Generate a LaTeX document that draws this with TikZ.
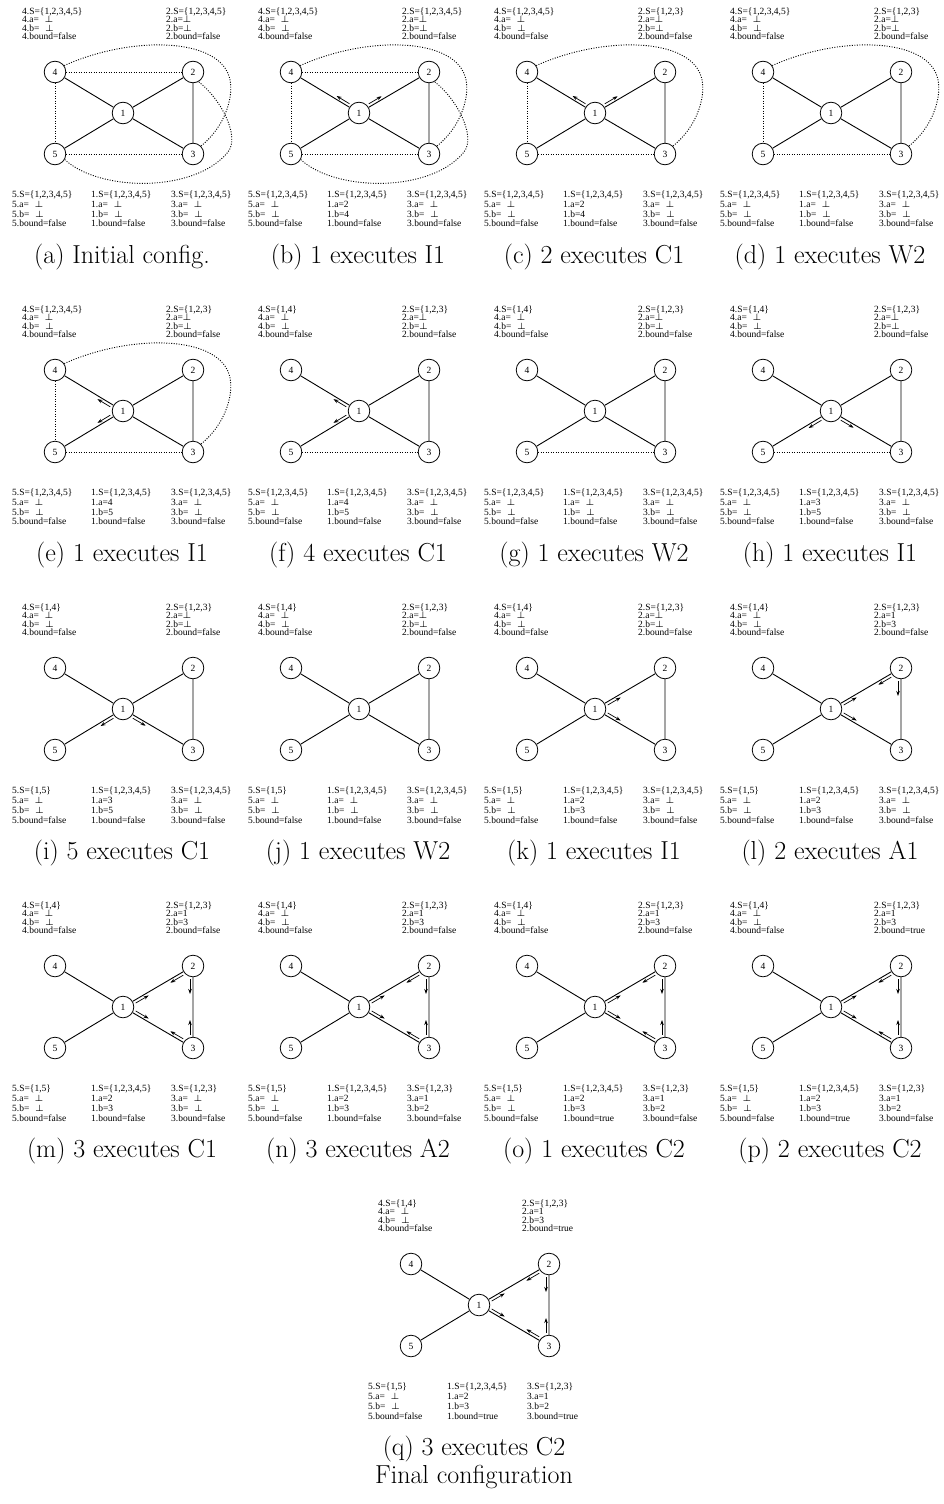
\documentclass[tikz,border=0pt]{standalone}
\usepackage{fontspec}
\newfontfamily\tim{Liberation Serif}
\usetikzlibrary{calc,arrows.meta}
\tikzset{
 vtx/.style={circle,draw,line width=0.8pt,minimum size=21.6pt,inner sep=0pt,font=\tim\fontsize{9.5}{9.5}\selectfont},
 edge/.style={line width=0.9pt},
 dotedge/.style={line width=0.9pt,dash pattern=on 1pt off 1.5pt},
 msg/.style={line width=0.7pt,-{Stealth[length=5pt,width=3.5pt]}},
 toptxt/.style={anchor=north west,inner sep=0pt,align=left,font=\tim\fontsize{9.5}{8.4}\selectfont},
 bottxt/.style={anchor=north west,inner sep=0pt,align=left,font=\tim\fontsize{9.5}{9.9}\selectfont},
 captxt/.style={inner sep=0pt,font=\fontsize{26}{28}\selectfont,align=center},
}
\newcommand\bt{\hspace{6pt}{\boldmath$\perp$}}
\newcommand\btn{{\boldmath$\perp$}}
\newcommand\sv[5]{#1.S=\{#2\}\\#1.a=#3\\#1.b=#4\\#1.bound=#5}
\newcommand\base[1]{%
  \node[vtx] (#1-4) at (55,72) {4};
  \node[vtx] (#1-2) at (193,72) {2};
  \node[vtx] (#1-1) at (123,113) {1};
  \node[vtx] (#1-5) at (55,154) {5};
  \node[vtx] (#1-3) at (193,154) {3};
  \draw[edge] (#1-4) -- (#1-1) (#1-2) -- (#1-1) (#1-5) -- (#1-1) (#1-3) -- (#1-1) (#1-2) -- (#1-3);}
\newcommand\dotFT[1]{\draw[dotedge] (#1-5) -- (#1-3);}
\newcommand\dotFF[1]{\draw[dotedge] (#1-4) -- (#1-5);}
\newcommand\dotFTw[1]{\draw[dotedge] (#1-4) -- (#1-2);}
\newcommand\curveA[1]{\draw[dotedge] (#1-4.35) .. controls (130,36) and (216,37) .. (229,76) .. controls (235,94) and (226,126) .. (#1-3.45);}
\newcommand\curveB[1]{\draw[dotedge] (#1-5.-30) .. controls (100,192) and (195,193) .. (228,152) .. controls (240,137) and (222,100) .. (#1-2.-60);}
\newcommand\msgarrow[3]{\draw[msg] ($(#1)!13pt!(#2)!3pt!#3:(#2)$) -- ($(#1)!28pt!(#2)!3pt!#3:(#2)$);}
\newcommand\tx[6]{%
  \node[toptxt] (#1-t4) at (22,7.5) {#2};
  \node[toptxt] (#1-t2) at (166,7.5) {#3};
  \node[bottxt] (#1-t5) at (12,190.5) {#4};
  \node[bottxt] (#1-t1) at (91,190.5) {#5};
  \node[bottxt] (#1-t3) at (171,190.5) {#6};}
\newcommand\pcap[2]{\node[captxt] (#1-cap) at (122,257) {#2};}
\newcommand\sixarrows[1]{\msgarrow{#1-1}{#1-2}{-90}\msgarrow{#1-1}{#1-3}{90}\msgarrow{#1-2}{#1-1}{90}\msgarrow{#1-2}{#1-3}{-90}\msgarrow{#1-3}{#1-1}{-90}\msgarrow{#1-3}{#1-2}{90}}
\begin{document}
\begin{tikzpicture}[x=1pt,y=-1pt]
\useasboundingbox (0,0) rectangle (944,1504);
% (a)
\begin{scope}[shift={(0,0)}]
\base{a}\dotFT{a}\dotFF{a}\dotFTw{a}\curveA{a}\curveB{a}
\tx{a}{\sv{4}{1,2,3,4,5}{\bt}{\bt}{false}}{\sv{2}{1,2,3,4,5}{\btn}{\btn}{false}}{\sv{5}{1,2,3,4,5}{\bt}{\bt}{false}}{\sv{1}{1,2,3,4,5}{\bt}{\bt}{false}}{\sv{3}{1,2,3,4,5}{\bt}{\bt}{false}}
\pcap{a}{(a) Initial config.}
\end{scope}
% (b)
\begin{scope}[shift={(236,0)}]
\base{b}\dotFT{b}\dotFF{b}\dotFTw{b}\curveA{b}\curveB{b}
\msgarrow{b-1}{b-4}{-90}\msgarrow{b-1}{b-2}{90}
\tx{b}{\sv{4}{1,2,3,4,5}{\bt}{\bt}{false}}{\sv{2}{1,2,3,4,5}{\btn}{\btn}{false}}{\sv{5}{1,2,3,4,5}{\bt}{\bt}{false}}{\sv{1}{1,2,3,4,5}{2}{4}{false}}{\sv{3}{1,2,3,4,5}{\bt}{\bt}{false}}
\pcap{b}{(b) 1 executes I1}
\end{scope}
% (c)
\begin{scope}[shift={(472,0)}]
\base{c}\dotFT{c}\dotFF{c}\curveA{c}
\msgarrow{c-1}{c-4}{-90}\msgarrow{c-1}{c-2}{90}
\tx{c}{\sv{4}{1,2,3,4,5}{\bt}{\bt}{false}}{\sv{2}{1,2,3}{\btn}{\btn}{false}}{\sv{5}{1,2,3,4,5}{\bt}{\bt}{false}}{\sv{1}{1,2,3,4,5}{2}{4}{false}}{\sv{3}{1,2,3,4,5}{\bt}{\bt}{false}}
\pcap{c}{(c) 2 executes C1}
\end{scope}
% (d)
\begin{scope}[shift={(708,0)}]
\base{d}\dotFT{d}\dotFF{d}\curveA{d}
\tx{d}{\sv{4}{1,2,3,4,5}{\bt}{\bt}{false}}{\sv{2}{1,2,3}{\btn}{\btn}{false}}{\sv{5}{1,2,3,4,5}{\bt}{\bt}{false}}{\sv{1}{1,2,3,4,5}{\bt}{\bt}{false}}{\sv{3}{1,2,3,4,5}{\bt}{\bt}{false}}
\pcap{d}{(d) 1 executes W2}
\end{scope}
% (e)
\begin{scope}[shift={(0,298)}]
\base{e}\dotFT{e}\dotFF{e}\curveA{e}
\msgarrow{e-1}{e-4}{90}\msgarrow{e-1}{e-5}{-90}
\tx{e}{\sv{4}{1,2,3,4,5}{\bt}{\bt}{false}}{\sv{2}{1,2,3}{\btn}{\btn}{false}}{\sv{5}{1,2,3,4,5}{\bt}{\bt}{false}}{\sv{1}{1,2,3,4,5}{4}{5}{false}}{\sv{3}{1,2,3,4,5}{\bt}{\bt}{false}}
\pcap{e}{(e) 1 executes I1}
\end{scope}
% (f)
\begin{scope}[shift={(236,298)}]
\base{f}\dotFT{f}
\msgarrow{f-1}{f-4}{90}\msgarrow{f-1}{f-5}{-90}
\tx{f}{\sv{4}{1,4}{\bt}{\bt}{false}}{\sv{2}{1,2,3}{\btn}{\btn}{false}}{\sv{5}{1,2,3,4,5}{\bt}{\bt}{false}}{\sv{1}{1,2,3,4,5}{4}{5}{false}}{\sv{3}{1,2,3,4,5}{\bt}{\bt}{false}}
\pcap{f}{(f) 4 executes C1}
\end{scope}
% (g)
\begin{scope}[shift={(472,298)}]
\base{g}\dotFT{g}
\tx{g}{\sv{4}{1,4}{\bt}{\bt}{false}}{\sv{2}{1,2,3}{\btn}{\btn}{false}}{\sv{5}{1,2,3,4,5}{\bt}{\bt}{false}}{\sv{1}{1,2,3,4,5}{\bt}{\bt}{false}}{\sv{3}{1,2,3,4,5}{\bt}{\bt}{false}}
\pcap{g}{(g) 1 executes W2}
\end{scope}
% (h)
\begin{scope}[shift={(708,298)}]
\base{h}\dotFT{h}
\msgarrow{h-1}{h-5}{90}\msgarrow{h-1}{h-3}{-90}
\tx{h}{\sv{4}{1,4}{\bt}{\bt}{false}}{\sv{2}{1,2,3}{\btn}{\btn}{false}}{\sv{5}{1,2,3,4,5}{\bt}{\bt}{false}}{\sv{1}{1,2,3,4,5}{3}{5}{false}}{\sv{3}{1,2,3,4,5}{\bt}{\bt}{false}}
\pcap{h}{(h) 1 executes I1}
\end{scope}
% (i)
\begin{scope}[shift={(0,596)}]
\base{i}
\msgarrow{i-1}{i-5}{90}\msgarrow{i-1}{i-3}{-90}
\tx{i}{\sv{4}{1,4}{\bt}{\bt}{false}}{\sv{2}{1,2,3}{\btn}{\btn}{false}}{\sv{5}{1,5}{\bt}{\bt}{false}}{\sv{1}{1,2,3,4,5}{3}{5}{false}}{\sv{3}{1,2,3,4,5}{\bt}{\bt}{false}}
\pcap{i}{(i) 5 executes C1}
\end{scope}
% (j)
\begin{scope}[shift={(236,596)}]
\base{j}
\tx{j}{\sv{4}{1,4}{\bt}{\bt}{false}}{\sv{2}{1,2,3}{\btn}{\btn}{false}}{\sv{5}{1,5}{\bt}{\bt}{false}}{\sv{1}{1,2,3,4,5}{\bt}{\bt}{false}}{\sv{3}{1,2,3,4,5}{\bt}{\bt}{false}}
\pcap{j}{(j) 1 executes W2}
\end{scope}
% (k)
\begin{scope}[shift={(472,596)}]
\base{k}
\msgarrow{k-1}{k-2}{-90}\msgarrow{k-1}{k-3}{90}
\tx{k}{\sv{4}{1,4}{\bt}{\bt}{false}}{\sv{2}{1,2,3}{\btn}{\btn}{false}}{\sv{5}{1,5}{\bt}{\bt}{false}}{\sv{1}{1,2,3,4,5}{2}{3}{false}}{\sv{3}{1,2,3,4,5}{\bt}{\bt}{false}}
\pcap{k}{(k) 1 executes I1}
\end{scope}
% (l)
\begin{scope}[shift={(708,596)}]
\base{l}
\msgarrow{l-1}{l-2}{-90}\msgarrow{l-1}{l-3}{90}\msgarrow{l-2}{l-1}{90}\msgarrow{l-2}{l-3}{-90}
\tx{l}{\sv{4}{1,4}{\bt}{\bt}{false}}{\sv{2}{1,2,3}{1}{3}{false}}{\sv{5}{1,5}{\bt}{\bt}{false}}{\sv{1}{1,2,3,4,5}{2}{3}{false}}{\sv{3}{1,2,3,4,5}{\bt}{\bt}{false}}
\pcap{l}{(l) 2 executes A1}
\end{scope}
% (m)
\begin{scope}[shift={(0,894)}]
\base{m}\sixarrows{m}
\tx{m}{\sv{4}{1,4}{\bt}{\bt}{false}}{\sv{2}{1,2,3}{1}{3}{false}}{\sv{5}{1,5}{\bt}{\bt}{false}}{\sv{1}{1,2,3,4,5}{2}{3}{false}}{\sv{3}{1,2,3}{\bt}{\bt}{false}}
\pcap{m}{(m) 3 executes C1}
\end{scope}
% (n)
\begin{scope}[shift={(236,894)}]
\base{n}\sixarrows{n}
\tx{n}{\sv{4}{1,4}{\bt}{\bt}{false}}{\sv{2}{1,2,3}{1}{3}{false}}{\sv{5}{1,5}{\bt}{\bt}{false}}{\sv{1}{1,2,3,4,5}{2}{3}{false}}{\sv{3}{1,2,3}{1}{2}{false}}
\pcap{n}{(n) 3 executes A2}
\end{scope}
% (o)
\begin{scope}[shift={(472,894)}]
\base{o}\sixarrows{o}
\tx{o}{\sv{4}{1,4}{\bt}{\bt}{false}}{\sv{2}{1,2,3}{1}{3}{false}}{\sv{5}{1,5}{\bt}{\bt}{false}}{\sv{1}{1,2,3,4,5}{2}{3}{true}}{\sv{3}{1,2,3}{1}{2}{false}}
\pcap{o}{(o) 1 executes C2}
\end{scope}
% (p)
\begin{scope}[shift={(708,894)}]
\base{p}\sixarrows{p}
\tx{p}{\sv{4}{1,4}{\bt}{\bt}{false}}{\sv{2}{1,2,3}{1}{3}{true}}{\sv{5}{1,5}{\bt}{\bt}{false}}{\sv{1}{1,2,3,4,5}{2}{3}{true}}{\sv{3}{1,2,3}{1}{2}{false}}
\pcap{p}{(p) 2 executes C2}
\end{scope}
% (q)
\begin{scope}[shift={(356,1192)}]
\base{q}\sixarrows{q}
\tx{q}{\sv{4}{1,4}{\bt}{\bt}{false}}{\sv{2}{1,2,3}{1}{3}{true}}{\sv{5}{1,5}{\bt}{\bt}{false}}{\sv{1}{1,2,3,4,5}{2}{3}{true}}{\sv{3}{1,2,3}{1}{2}{true}}
\node[captxt,anchor=north] (q-cap) at (118,244) {(q) 3 executes C2\\Final configuration};
\end{scope}
\end{tikzpicture}
\end{document}
